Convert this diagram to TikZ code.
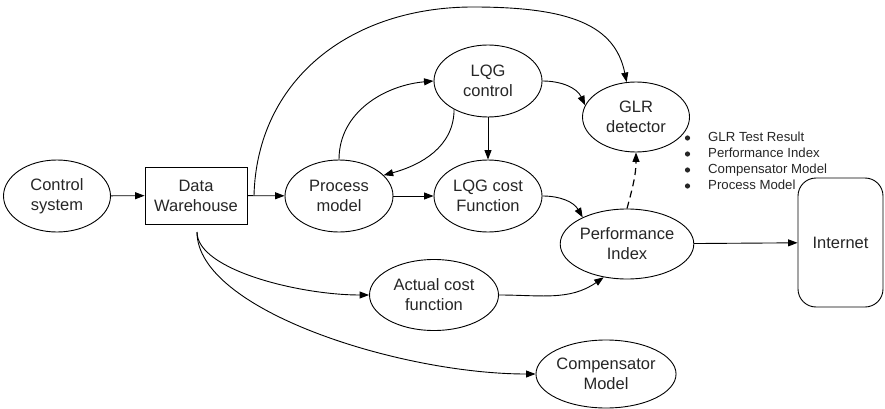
\documentclass[tikz,border=0pt]{standalone}
\usepackage{fontspec}
\setmainfont{Liberation Sans}
\usetikzlibrary{shapes.geometric,arrows.meta}
\begin{document}
\begin{tikzpicture}[x=1pt,y=-1pt,
  lbl/.style={font=\fontsize{16.5}{20}\selectfont, align=center, inner sep=0pt, draw, line width=0.9pt, text=black!85},
  ell/.style={lbl, ellipse},
  box/.style={lbl, rectangle},
  conn/.style={line width=0.9pt, -{Triangle[length=9.5pt,width=7pt]}},
  dconn/.style={conn, line width=1.2pt, dash pattern=on 7pt off 4.5pt},
  dot/.style={fill=black!85}]
\useasboundingbox (0,0) rectangle (885,409);
\node[ell, minimum width=107pt, minimum height=72pt] (cs) at (57,196) {Control\\system};
\node[box, minimum width=102pt, minimum height=57pt] (dw) at (196,195.5) {Data\\Warehouse};
\node[ell, minimum width=108pt, minimum height=72pt] (pm) at (339,196) {Process\\model};
\node[ell, minimum width=108pt, minimum height=72pt] (lqg) at (488,81) {LQG\\control};
\node[ell, minimum width=107pt, minimum height=70pt] (glr) at (636,117) {GLR\\detector};
\node[ell, minimum width=108pt, minimum height=72pt] (lqgc) at (488,196) {LQG cost\\Function};
\node[ell, minimum width=130pt, minimum height=70pt] (pi) at (627,244) {Performance\\Index};
\node[ell, minimum width=129pt, minimum height=71pt] (acf) at (434,295) {Actual cost\\function};
\node[ell, minimum width=128pt, minimum height=68pt] (comp) at (606,374) {Compensator\\Model};
\node[box, rounded corners=18pt, minimum width=85pt, minimum height=129pt] (net) at (840.5,242.5) {Internet};
\node[anchor=north west, inner sep=0pt, align=left, font=\fontsize{13.2}{16}\selectfont, text=black!85] (list) at (708,131.5)
  {GLR Test Result\\Performance Index\\Compensator Model\\Process Model};
\fill[dot] (687.5,138) circle (2.6pt);
\fill[dot] (687.5,154) circle (2.6pt);
\fill[dot] (687.5,170) circle (2.6pt);
\fill[dot] (687.5,186) circle (2.6pt);
\coordinate (split) at (254,195.5);
\coordinate (top) at (473,7);
\coordinate (dws) at (197,232);
\draw[conn] (cs) -- (dw);
\draw[conn] (dw) -- (pm);
\draw[conn] (split) .. controls (257,80) and (350,7) .. (top)
  .. controls (570,7) and (615,25) .. (glr.105);
\draw[conn] (pm.north) to[out=90,in=185] (lqg.west);
\draw[conn] (lqg.220) to[out=-90,in=15] (pm.25);
\draw[conn] (lqg) -- (lqgc);
\draw[conn] (lqg.east) to[out=0,in=115] (glr.167);
\draw[conn] (pm) -- (lqgc);
\draw[conn] (lqgc.east) to[out=0,in=120] (pi.149);
\draw[dconn] (pi.north) to[out=75,in=-90] (glr.south);
\draw[conn] (pi) -- (net);
\draw[conn] (dws) .. controls (197,270) and (300,295) .. (acf.west);
\draw[conn] (dws) .. controls (197,310) and (400,374) .. (comp.west);
\draw[conn] (acf.east) to[out=0,in=215] (pi.235);
\end{tikzpicture}
\end{document}
